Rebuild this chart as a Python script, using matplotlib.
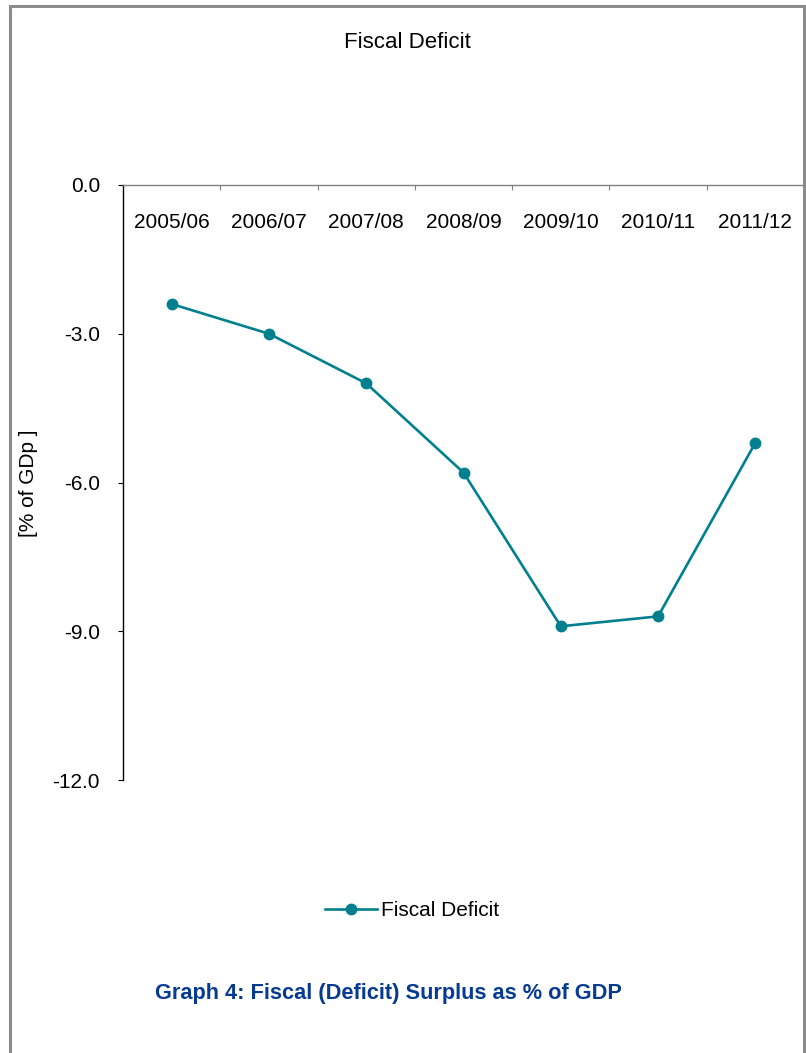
import matplotlib as mpl
import matplotlib.pyplot as plt
from matplotlib.lines import Line2D
import numpy as np

mpl.rcParams.update(
    {
        "font.family": "sans-serif",
        "font.sans-serif": ["Liberation Sans", "Arial", "DejaVu Sans"],
        "font.size": 15,
    }
)

years = ["2005/06", "2006/07", "2007/08", "2008/09", "2009/10", "2010/11", "2011/12"]
deficit = [-2.4, -3.0, -4.0, -5.8, -8.9, -8.7, -5.2]
y_ticks = [0.0, -3.0, -6.0, -9.0, -12.0]

LINE_COLOR = "#00808f"
FRAME_GRAY = "#8c8c8c"
AXIS_GRAY = "#808080"
CAPTION_BLUE = "#063a93"

W, H = 806, 1053
fig = plt.figure(figsize=(W / 100, H / 100), dpi=100)

# pixel -> figure fraction helpers
fx = lambda px: px / W
fy = lambda py: 1 - py / H

# outer frame (open at the bottom)
fig.add_artist(Line2D([fx(10), fx(10), fx(803.5), fx(803.5)], [fy(H + 5), fy(6), fy(6), fy(H + 5)],
                      color=FRAME_GRAY, linewidth=2.2, transform=fig.transFigure, solid_joinstyle="miter"))

left, right, top, bottom = 123, 804, 185, 780
ax = fig.add_axes([fx(left), fy(bottom), fx(right) - fx(left), fy(top) - fy(bottom)])

x = np.arange(len(years))
ax.plot(x, deficit, color=LINE_COLOR, linewidth=1.9, marker="o", markersize=7.5,
        label="Fiscal Deficit", clip_on=False)

ax.set_xlim(-0.5, len(years) - 0.5)
ax.set_ylim(-12, 0)

ax.spines["right"].set_visible(False)
ax.spines["bottom"].set_visible(False)
ax.spines["top"].set_color(AXIS_GRAY)
ax.spines["top"].set_linewidth(1.0)
ax.spines["left"].set_color("black")
ax.spines["left"].set_linewidth(1.0)

ax.set_yticks(y_ticks)
ax.set_yticklabels([f"{v:.1f}" for v in y_ticks])
ax.tick_params(axis="y", direction="out", length=3.6, width=0.8, pad=13, labelsize=15)

# category boundaries as ticks hanging from the zero line
ax.xaxis.set_ticks_position("top")
ax.set_xticks(x[:-1] + 0.5)
ax.set_xticklabels([])
ax.tick_params(axis="x", direction="in", length=3.6, width=0.8, color=AXIS_GRAY)

for xi, lab in zip(x, years):
    ax.text(xi, -0.75, lab, ha="center", va="center", fontsize=15)

fig.text(fx(28), fy(483), "[% of GDp ]", rotation=90, ha="center", va="center", fontsize=15)

fig.text(fx(407), fy(42), "Fiscal Deficit", ha="center", va="center", fontsize=16)

fig.legend(loc="center", bbox_to_anchor=(fx(412), fy(911)), frameon=False, fontsize=15,
           handlelength=2.5, handletextpad=0.2, borderaxespad=0)

fig.text(fx(388), fy(993), "Graph 4: Fiscal (Deficit) Surplus as % of GDP", ha="center", va="center",
         fontsize=15.7, fontweight="bold", color=CAPTION_BLUE)

fig.savefig("out.png", dpi=100)
